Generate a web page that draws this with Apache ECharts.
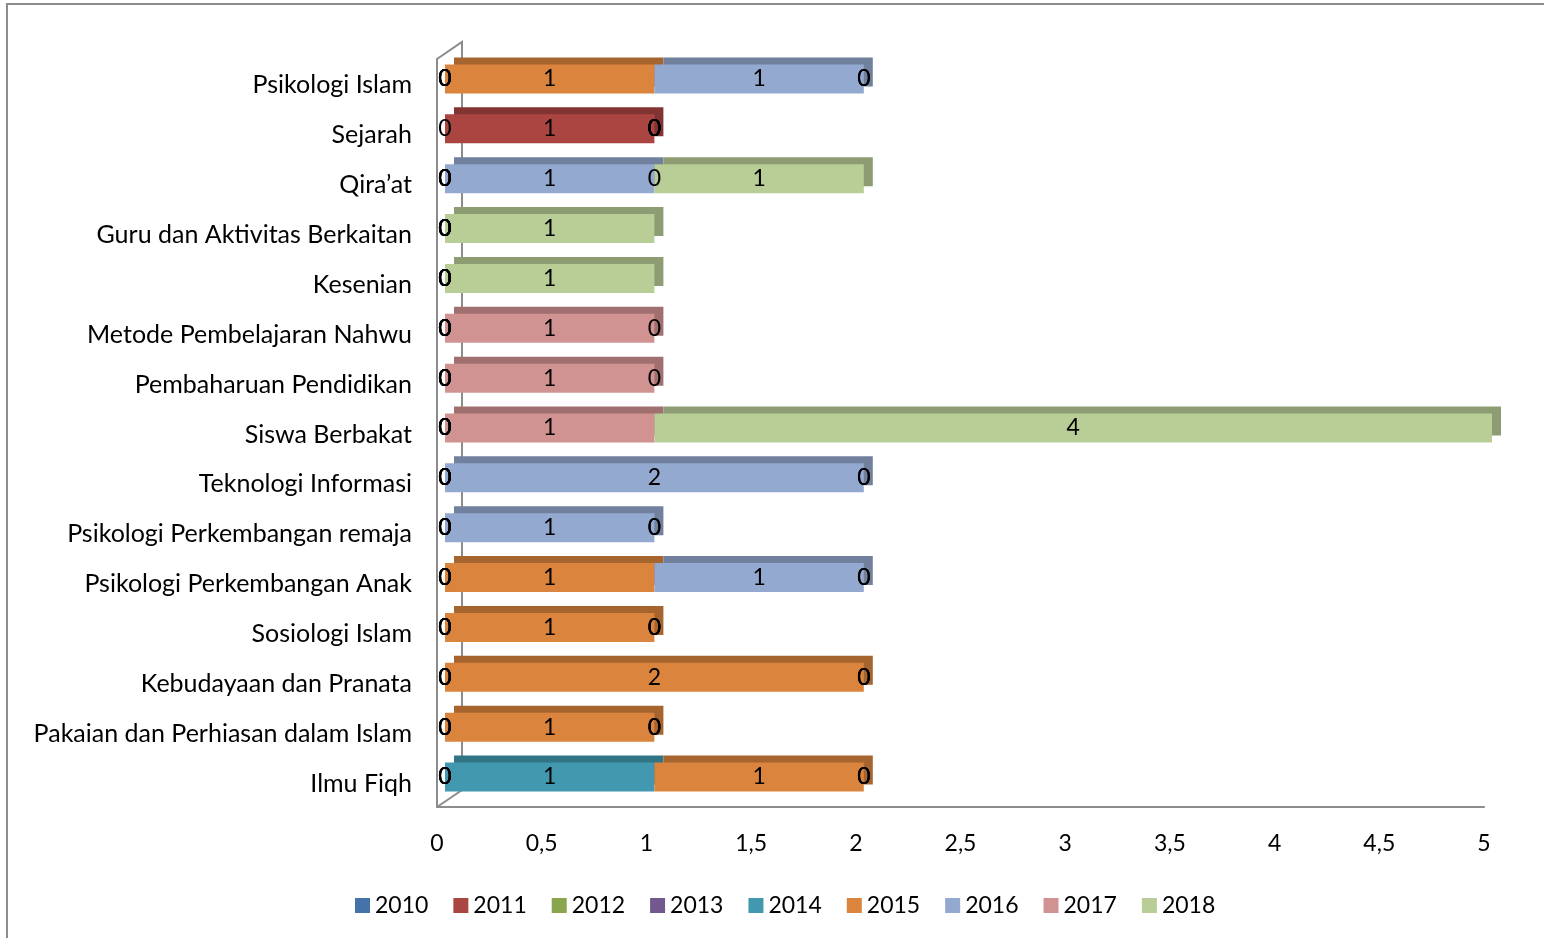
<!DOCTYPE html>
<html>
<head>
<meta charset="utf-8">
<script src="https://cdn.jsdelivr.net/npm/echarts@6/dist/echarts.min.js"></script>
<style>
html, body { margin: 0; padding: 0; background: #fff; }
#chart { width: 1544px; height: 938px; }
</style>
</head>
<body>
<div id="chart"></div>
<script>
// kategori dari bawah ke atas
var categories = ['Ilmu Fiqh', 'Pakaian dan Perhiasan dalam Islam', 'Kebudayaan dan Pranata', 'Sosiologi Islam',
	'Psikologi Perkembangan Anak', 'Psikologi Perkembangan remaja', 'Teknologi Informasi', 'Siswa Berbakat',
	'Pembaharuan Pendidikan', 'Metode Pembelajaran Nahwu', 'Kesenian', 'Guru dan Aktivitas Berkaitan',
	'Qira\u2019at', 'Sejarah', 'Psikologi Islam'];
var years = ['2010', '2011', '2012', '2013', '2014', '2015', '2016', '2017', '2018'];
var y2010 = [0, 0, 0, 0, 0, 0, 0, 0, 0, 0, 0, 0, 0, 0, 0];
var y2011 = [0, 0, 0, 0, 0, 0, 0, 0, 0, 0, 0, 0, 0, 1, 0];
var y2012 = [0, 0, 0, 0, 0, 0, 0, 0, 0, 0, 0, 0, 0, 0, 0];
var y2013 = [0, 0, 0, 0, 0, 0, 0, 0, 0, 0, 0, 0, 0, 0, 0];
var y2014 = [1, 0, 0, 0, 0, 0, 0, 0, 0, 0, 0, 0, 0, 0, 0];
var y2015 = [1, 1, 2, 1, 1, 0, 0, 0, 0, 0, 0, 0, 0, 0, 1];
var y2016 = [0, 0, 0, 0, 1, 1, 2, 0, 0, 0, 0, 0, 1, 0, 1];
var y2017 = [0, 0, 0, 0, 0, 0, 0, 1, 1, 1, 0, 0, 0, 0, 0];
var y2018 = [0, 0, 0, 0, 0, 0, 0, 4, 0, 0, 1, 1, 1, 0, 0];
var xTicks = ['0', '0,5', '1', '1,5', '2', '2,5', '3', '3,5', '4', '4,5', '5'];

var yearData = [y2010, y2011, y2012, y2013, y2014, y2015, y2016, y2017, y2018];
var colorsArr = ['#4672aa', '#ab4542', '#89a54e', '#71588f', '#4198af', '#db843d', '#93a9cf', '#d19392', '#b9cd96'];
var fontName = 'Lato, "Open Sans", sans-serif';

// warna sisi atas (lebih gelap)
function darken(hex, f) {
	var r = parseInt(hex.substr(1, 2), 16), g = parseInt(hex.substr(3, 2), 16), b = parseInt(hex.substr(5, 2), 16);
	return 'rgb(' + Math.round(r * f) + ',' + Math.round(g * f) + ',' + Math.round(b * f) + ')';
}

var seriesArray = [];
for (var i = 0; i < years.length; i++) {
	seriesArray.push({
		name: years[i],
		type: 'bar',
		stack: 'total',
		xAxisIndex: 0,
		yAxisIndex: 0,
		barWidth: 29,
		data: yearData[i],
		itemStyle: {
			color: colorsArr[i],
			shadowColor: darken(colorsArr[i], 0.76),
			shadowOffsetX: 9,
			shadowOffsetY: -7,
			shadowBlur: 0
		},
		label: {
			show: true,
			position: 'inside',
			color: '#000',
			fontSize: 23,
			fontFamily: fontName
		}
	});
}

var myChart = echarts.init(document.getElementById('chart'));
var option = {
	animation: false,
	backgroundColor: '#fff',
	textStyle: { fontFamily: fontName },
	legend: {
		data: years,
		left: 350,
		top: 889,
		icon: 'rect',
		itemWidth: 15,
		itemHeight: 15,
		itemGap: 25,
		textStyle: { fontSize: 23, color: '#000', fontFamily: fontName }
	},
	grid: [
		{ left: 445, right: 52, top: 54, bottom: 136 },
		{ left: 437, right: 60, top: 59, bottom: 131 }
	],
	xAxis: [
		{ type: 'value', gridIndex: 0, min: 0, max: 5, interval: 0.5, show: false },
		{
			type: 'value', gridIndex: 1, min: 0, max: 5, interval: 0.5,
			axisLine: { show: true, lineStyle: { color: '#8c8c8c', width: 2 } },
			axisTick: { show: false },
			splitLine: { show: false },
			axisLabel: {
				margin: 25,
				fontSize: 23,
				color: '#000',
				formatter: function(v) { return xTicks[Math.round(v * 2)]; }
			}
		}
	],
	yAxis: [
		{
			type: 'category', gridIndex: 0, data: categories,
			axisLine: { show: false },
			axisTick: { show: false },
			axisLabel: {
				margin: 33,
				fontSize: 25,
				color: '#000',
				verticalAlign: 'top',
				lineHeight: 13
			}
		},
		{
			type: 'value', gridIndex: 1, min: 0, max: 1,
			axisLine: { show: true, lineStyle: { color: '#8c8c8c', width: 2 } },
			axisTick: { show: false },
			axisLabel: { show: false },
			splitLine: { show: false }
		}
	],
	graphic: [
		{ type: 'rect', shape: { x: 7, y: 4, width: 1600, height: 1000 }, style: { fill: null, stroke: '#8c8c8c', lineWidth: 2 }, z: -10 },
		{ type: 'polyline', shape: { points: [[437, 59], [462, 42], [462, 790], [437, 807]] }, style: { fill: null, stroke: '#8c8c8c', lineWidth: 2 }, z: -10 }
	],
	series: seriesArray
};
myChart.setOption(option);
</script>
</body>
</html>
